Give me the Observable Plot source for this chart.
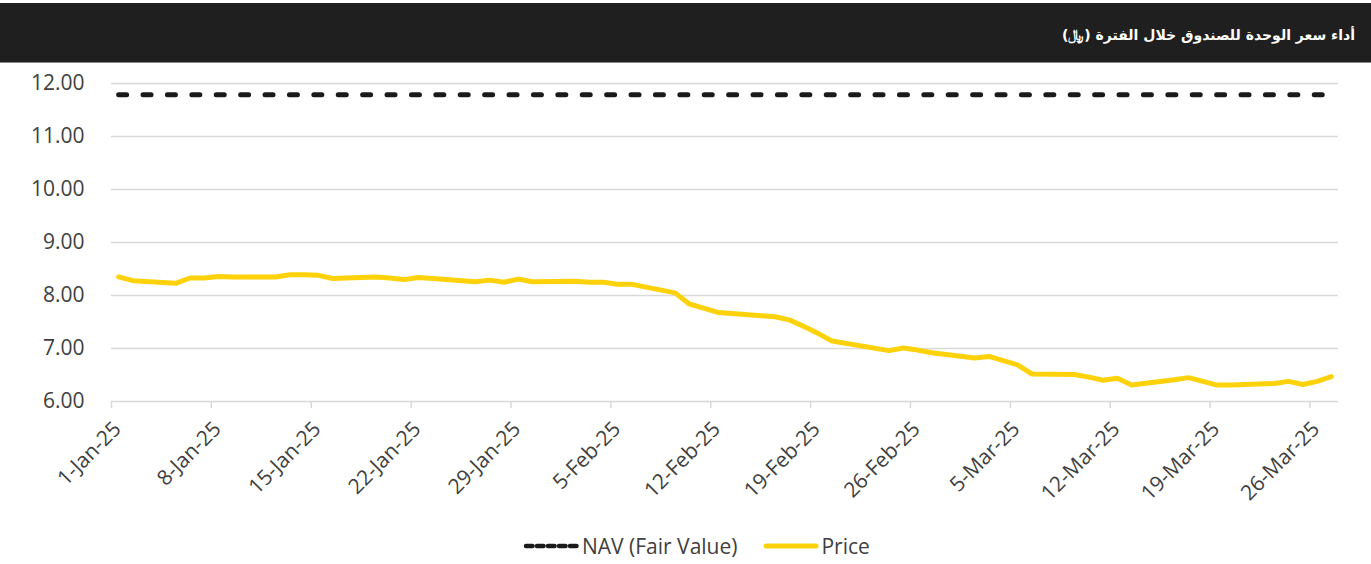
<!DOCTYPE html>
<html>
<head>
<meta charset="utf-8">
<script src="https://cdn.jsdelivr.net/npm/d3@7"></script>
<script src="https://cdn.jsdelivr.net/npm/@observablehq/plot@0.6"></script>
<style>
  html, body { margin: 0; padding: 0; background: #fff; }
  body { width: 1371px; height: 564px; position: relative; overflow: hidden; font-family: "Open Sans", sans-serif; }
  #header { position: absolute; left: 0; top: 3px; width: 1371px; height: 59px; background: #1f1f1f; border-bottom: 1px solid #8a8a8a; }
  #title { position: absolute; right: 16px; top: 3px; height: 59px; line-height: 59px; color: #fff; font-family: "DejaVu Sans", sans-serif; font-weight: bold; font-size: 14px; direction: rtl; }
  #chart { position: absolute; left: 0; top: 62px; }
  #legend { position: absolute; left: 523px; top: 533px; height: 26px; display: flex; align-items: center; font-size: 21px; color: #404040; }
  #legend .item { display: flex; align-items: center; }
  #legend svg { display: block; }
</style>
</head>
<body>
<div id="header"><div id="title"></div></div>
<div id="chart"></div>
<div id="legend"></div>
<script>
// ---- Data ----
const titleText = "أداء سعر الوحدة للصندوق خلال الفترة (﷼)";
const seriesNames = ["NAV (Fair Value)", "Price"];

const tradingDates = [
  "2025-01-01","2025-01-02","2025-01-05","2025-01-06","2025-01-07","2025-01-08","2025-01-09",
  "2025-01-12","2025-01-13","2025-01-14","2025-01-15","2025-01-16",
  "2025-01-19","2025-01-20","2025-01-21","2025-01-22","2025-01-23",
  "2025-01-26","2025-01-27","2025-01-28","2025-01-29","2025-01-30",
  "2025-02-02","2025-02-03","2025-02-04","2025-02-05","2025-02-06",
  "2025-02-09","2025-02-10","2025-02-11","2025-02-12","2025-02-13",
  "2025-02-16","2025-02-17","2025-02-18","2025-02-19","2025-02-20",
  "2025-02-24","2025-02-25","2025-02-26","2025-02-27",
  "2025-03-02","2025-03-03","2025-03-04","2025-03-05","2025-03-06",
  "2025-03-09","2025-03-10","2025-03-11","2025-03-12","2025-03-13",
  "2025-03-16","2025-03-17","2025-03-18","2025-03-19","2025-03-20",
  "2025-03-23","2025-03-24","2025-03-25","2025-03-26","2025-03-27"
];

const priceValues = [
  8.35, 8.28, 8.23, 8.33, 8.33, 8.36, 8.35,
  8.35, 8.39, 8.39, 8.38, 8.32,
  8.35, 8.33, 8.30, 8.34, 8.32,
  8.26, 8.29, 8.25, 8.31, 8.26,
  8.27, 8.25, 8.25, 8.21, 8.21,
  8.05, 7.84, 7.76, 7.68, 7.66,
  7.60, 7.54, 7.42, 7.29, 7.14,
  6.96, 7.01, 6.97, 6.92,
  6.82, 6.85, 6.77, 6.69, 6.52,
  6.51, 6.46, 6.40, 6.44, 6.31,
  6.41, 6.45, 6.38, 6.31, 6.31,
  6.34, 6.38, 6.32, 6.38, 6.47
];

const navFairValue = 11.79;   // flat dashed line

const yTickValues = [6, 7, 8, 9, 10, 11, 12];
const xTickLabels = ["2025-01-01","2025-01-08","2025-01-15","2025-01-22","2025-01-29","2025-02-05",
  "2025-02-12","2025-02-19","2025-02-26","2025-03-05","2025-03-12","2025-03-19","2025-03-26"];
const xDomain = ["2025-01-01", "2025-03-28"];

// ---- Build ----
const parse = d3.utcParse("%Y-%m-%d");
const fmt = d3.utcFormat("%-d-%b-%y");
const halfDay = 12 * 3600 * 1000;
const rows = tradingDates.map((d, i) => ({
  date: new Date(+parse(d) + halfDay),   // date-axis points sit mid-day (between tick marks)
  price: priceValues[i],
  nav: navFairValue
}));
const xTicks = xTickLabels.map(parse);

document.getElementById("title").textContent = titleText;

const NAV_COLOR = "#1a1a1a";
const PRICE_COLOR = "#FDD20A";
const TEXT_COLOR = "#404040";
const GRID_COLOR = "#d9d9d9";

const chart = Plot.plot({
  width: 1371,
  height: 460,
  marginLeft: 111,
  marginRight: 33,
  marginTop: 21,
  marginBottom: 121,
  style: { fontFamily: "'Open Sans', sans-serif", background: "transparent", overflow: "visible", color: TEXT_COLOR },
  x: { type: "utc", domain: xDomain.map(parse) },
  y: { domain: [6, 12] },
  marks: [
    Plot.gridY(yTickValues, { stroke: GRID_COLOR, strokeOpacity: 1, strokeWidth: 1.5 }),
    Plot.axisY(yTickValues, { tickSize: 0, tickPadding: 27, tickFormat: d => d.toFixed(2), fontSize: 21, fill: TEXT_COLOR }),
    Plot.axisX(xTicks, { tickSize: 7, stroke: GRID_COLOR, strokeWidth: 1.5, tickFormat: () => "" }),
    Plot.text(xTicks, {
      x: d => d, text: d => fmt(d), frameAnchor: "bottom",
      rotate: -45, textAnchor: "end", lineAnchor: "middle",
      dx: 6, dy: 24, fontSize: 21, fill: TEXT_COLOR
    }),
    Plot.line(rows, { x: "date", y: "nav", stroke: NAV_COLOR, strokeWidth: 5, strokeDasharray: "8,16.4", strokeLinecap: "round" }),
    Plot.line(rows, { x: "date", y: "price", stroke: PRICE_COLOR, strokeWidth: 5, strokeLinejoin: "round", strokeLinecap: "round" })
  ]
});
document.getElementById("chart").appendChild(chart);

// ---- Legend ----
const legend = document.getElementById("legend");
legend.innerHTML = `
  <div class="item">
    <svg width="57" height="10"><line x1="3" y1="5" x2="55" y2="5" stroke="${NAV_COLOR}" stroke-width="4.5" stroke-linecap="round" stroke-dasharray="6.5,4.5"/></svg>
    <span style="margin-left:2px">${seriesNames[0]}</span>
  </div>
  <div class="item" style="margin-left:26px">
    <svg width="56" height="10"><line x1="3" y1="5" x2="53" y2="5" stroke="${PRICE_COLOR}" stroke-width="5" stroke-linecap="round"/></svg>
    <span style="margin-left:2px">${seriesNames[1]}</span>
  </div>`;
</script>
</body>
</html>
